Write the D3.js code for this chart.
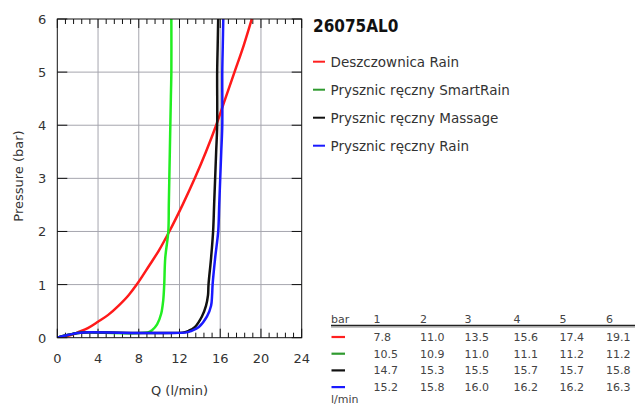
<!DOCTYPE html>
<html><head><meta charset="utf-8">
<script src="https://cdn.jsdelivr.net/npm/d3@7"></script>
<style>
body{margin:0;background:#fff;}
svg{display:block;font-family:"DejaVu Sans",sans-serif;}
</style></head>
<body>
<svg id="chart" width="635" height="406"></svg>
<script>
// ---- data ----
const title = "26075AL0";
const seriesNames = ["Deszczownica Rain","Prysznic ręczny SmartRain","Prysznic ręczny Massage","Prysznic ręczny Rain"];
const lineColors = ["#ff1a1a","#22ee22","#111111","#1a1aff"];
const legendColors = ["#ff2020","#2f9a2f","#111111","#1a1aff"];
const flowTicks = [0,4,8,12,16,20,24];
const pressureTicks = [0,1,2,3,4,5,6];
// curve points [Q l/min, pressure bar]
const curveRain = [[0,0],[1,0.03],[2,0.1],[3,0.18],[4,0.3],[5,0.43],[6,0.6],[7,0.8],[7.8,1],[9,1.35],[10,1.65],[11,2],[12.3,2.5],[13.5,3],[14.6,3.5],[15.6,4],[16.5,4.5],[17.4,5],[18.3,5.5],[19.1,6]];
const curveSmartRain = [[0,0],[1,0.05],[2,0.09],[2.6,0.1],[8.9,0.1],[9.3,0.14],[9.8,0.25],[10.2,0.45],[10.4,0.7],[10.5,1],[10.6,1.5],[10.9,2],[10.95,2.5],[11.0,3],[11.05,3.5],[11.1,4],[11.15,4.5],[11.2,5],[11.2,6]];
const curveMassage = [[0,0],[1,0.05],[2,0.09],[2.6,0.1],[12.4,0.1],[12.9,0.13],[13.5,0.2],[14.2,0.4],[14.6,0.6],[14.8,0.8],[14.85,1],[15.1,1.5],[15.3,2],[15.4,2.5],[15.5,3],[15.6,3.5],[15.7,4],[15.7,5],[15.75,5.5],[15.8,6]];
const curveHandRain = [[0,0],[1,0.05],[2,0.09],[2.6,0.1],[12.7,0.1],[13.2,0.13],[13.9,0.2],[14.7,0.4],[15.1,0.6],[15.2,0.8],[15.25,1],[15.5,1.5],[15.8,2],[15.9,2.5],[16.0,3],[16.1,3.5],[16.2,4],[16.2,5],[16.25,5.5],[16.3,6]];
const tableBars = [1,2,3,4,5,6];
const tableRain = ["7.8","11.0","13.5","15.6","17.4","19.1"];
const tableSmartRain = ["10.5","10.9","11.0","11.1","11.2","11.2"];
const tableMassage = ["14.7","15.3","15.5","15.7","15.7","15.8"];
const tableHandRain = ["15.2","15.8","16.0","16.2","16.2","16.3"];

const curves = [curveRain, curveSmartRain, curveMassage, curveHandRain];
const tableRows = [tableRain, tableSmartRain, tableMassage, tableHandRain];

// ---- layout ----
const svg = d3.select("#chart");
const L = 57.3, R = 301.7, T = 19, B = 337.7;
const x = d3.scaleLinear().domain([0,24]).range([L,R]);
const y = d3.scaleLinear().domain([0,6]).range([B,T]);
const textCol = "#333";
const gridCol = "#a6a6ae";

// grid
svg.append("g").selectAll("line").data(flowTicks.slice(1,-1)).join("line")
  .attr("x1",d=>x(d)).attr("x2",d=>x(d)).attr("y1",T).attr("y2",B)
  .attr("stroke",gridCol).attr("stroke-width",1);
svg.append("g").selectAll("line").data(pressureTicks.slice(1,-1)).join("line")
  .attr("x1",L).attr("x2",R).attr("y1",d=>y(d)).attr("y2",d=>y(d))
  .attr("stroke",gridCol).attr("stroke-width",1);

// minor ticks on x (bottom & top)
const minorX = d3.range(0,24.001,0.8).filter(v=>Math.abs(v/4-Math.round(v/4))>0.01);
const tk = svg.append("g").attr("stroke","#111").attr("stroke-width",1);
minorX.forEach(v=>{
  tk.append("line").attr("x1",x(v)).attr("x2",x(v)).attr("y1",B).attr("y2",B-5);
  tk.append("line").attr("x1",x(v)).attr("x2",x(v)).attr("y1",T).attr("y2",T+5);
});
flowTicks.forEach(v=>{
  tk.append("line").attr("x1",x(v)).attr("x2",x(v)).attr("y1",B).attr("y2",B-9);
  tk.append("line").attr("x1",x(v)).attr("x2",x(v)).attr("y1",T).attr("y2",T+9);
});
pressureTicks.forEach(v=>{
  tk.append("line").attr("x1",L).attr("x2",L+10).attr("y1",y(v)).attr("y2",y(v));
  tk.append("line").attr("x1",R).attr("x2",R-10).attr("y1",y(v)).attr("y2",y(v));
});

// curves
svg.append("defs").append("clipPath").attr("id","clip").append("rect")
  .attr("x",L).attr("y",T-1).attr("width",R-L).attr("height",B-T+1);
const lineSmooth = d3.line().x(d=>x(d[0])).y(d=>y(d[1])).curve(d3.curveMonotoneX);
const lineSteep = d3.line().x(d=>x(d[0])).y(d=>y(d[1])).curve(d3.curveCatmullRom.alpha(0.5));
svg.append("g").attr("clip-path","url(#clip)").selectAll("path").data(curves).join("path")
  .attr("d",(d,i)=> i===0 ? lineSmooth(d) : lineSteep(d))
  .attr("fill","none").attr("stroke",(d,i)=>lineColors[i])
  .attr("stroke-width",2.5).attr("stroke-linejoin","round");

// frame
svg.append("rect").attr("x",L).attr("y",T).attr("width",R-L).attr("height",B-T)
  .attr("fill","none").attr("stroke","#111").attr("stroke-width",1);

// tick labels
svg.append("g").selectAll("text").data(flowTicks).join("text")
  .attr("x",d=>x(d)).attr("y",B+25).attr("text-anchor","middle")
  .attr("font-size",13).attr("fill",textCol).text(d=>d);
svg.append("g").selectAll("text").data(pressureTicks).join("text")
  .attr("x",L-11).attr("y",d=>y(d)+5).attr("text-anchor","end")
  .attr("font-size",13).attr("fill",textCol).text(d=>d);

// axis titles
svg.append("text").attr("x",(L+R)/2).attr("y",395).attr("text-anchor","middle")
  .attr("font-size",13).attr("fill",textCol).text("Q (l/min)");
svg.append("text").attr("transform","translate(23,176) rotate(-90)").attr("text-anchor","middle")
  .attr("font-size",13).attr("fill",textCol).text("Pressure (bar)");

// title
svg.append("text").attr("x",313).attr("y",32).attr("font-size",17).attr("font-weight","bold")
  .attr("font-family","'DejaVu Sans Condensed','DejaVu Sans',sans-serif").attr("fill","#111").text(title);

// legend
const lg = svg.append("g");
seriesNames.forEach((n,i)=>{
  const cy = 61.7 + i*28;
  lg.append("line").attr("x1",313).attr("x2",325).attr("y1",cy).attr("y2",cy)
    .attr("stroke",legendColors[i]).attr("stroke-width",2);
  lg.append("text").attr("x",330.5).attr("y",cy+5).attr("font-size",13.5).attr("fill",textCol).text(n);
});

// table
const colX = [373.5,420,464.5,513.5,559.5,606];
const tb = svg.append("g").attr("font-size",11).attr("fill","#444");
tb.append("text").attr("x",331).attr("y",323).text("bar");
tableBars.forEach((b,j)=>tb.append("text").attr("x",colX[j]).attr("y",323).text(b));
tb.append("line").attr("x1",331).attr("x2",635).attr("y1",325.5).attr("y2",325.5).attr("stroke","#222").attr("stroke-width",1.5);
tb.append("line").attr("x1",331).attr("x2",635).attr("y1",327).attr("y2",327).attr("stroke","#888").attr("stroke-width",1);
tableRows.forEach((row,i)=>{
  const cy = 337 + i*16.7;
  tb.append("line").attr("x1",331.5).attr("x2",345).attr("y1",cy).attr("y2",cy)
    .attr("stroke",legendColors[i]).attr("stroke-width",2.2);
  row.forEach((v,j)=>tb.append("text").attr("x",colX[j]).attr("y",cy+4).text(v));
});
tb.append("text").attr("x",331).attr("y",403).text("l/min");
</script>
</body></html>
